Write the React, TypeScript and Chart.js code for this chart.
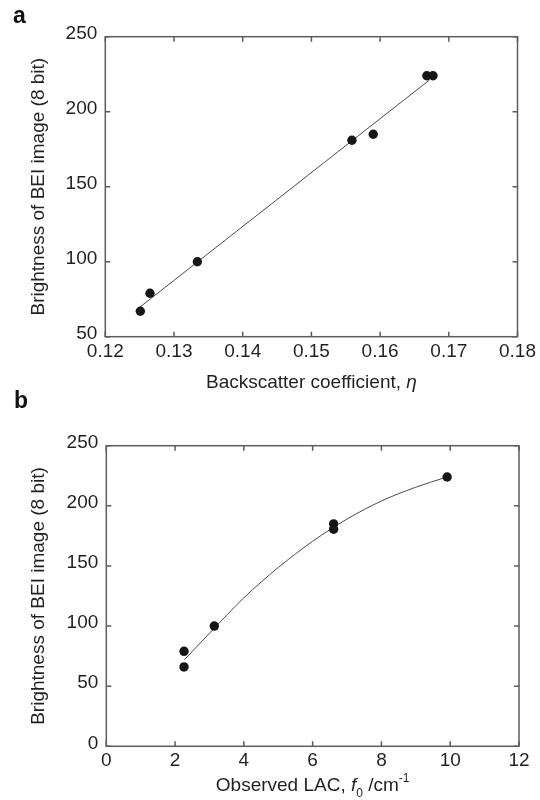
import React, { useEffect, useRef } from "react";
import { Chart, registerables } from "chart.js";

Chart.register(...registerables);

const FONT = "'Liberation Sans', Arial, Helvetica, sans-serif";
const FS = 19;
const AXIS_COLOR = "#5c5c5c";
const TEXT_COLOR = "#231f20";
const POINT_COLOR = "#161616";
const LINE_COLOR = "#4a4a4a";

// ---- Panel a ----
const etaA = [0.1251, 0.1265, 0.1334, 0.1559, 0.159, 0.1668, 0.1677];
const brightA = [67, 79, 100, 181, 185, 224, 224];
const fitEtaA = [0.125, 0.1672];
const fitBrightA = [69.6, 221.2];
const xTicksA = [0.12, 0.13, 0.14, 0.15, 0.16, 0.17, 0.18];
const yTicksA = [50, 100, 150, 200, 250];

// ---- Panel b ----
const lacB = [2.26, 2.26, 3.14, 6.61, 6.61, 9.91];
const brightB = [79, 66, 100, 185, 180.5, 224];
const curveLacB = [2.27, 3, 4, 5, 6, 7, 8, 9, 9.91];
const curveBrightB = [72, 94, 123.5, 148.7, 170.5, 189, 204, 215.5, 224];
const xTicksB = [0, 2, 4, 6, 8, 10, 12];
const yTicksB = [0, 50, 100, 150, 200, 250];

const Y_TITLE = "Brightness of BEI image (8 bit)";

type Part = { text: string; italic?: boolean; sub?: boolean; sup?: boolean };

const xTitleA: Part[] = [
  { text: "Backscatter coefficient, " },
  { text: "η", italic: true },
];
const xTitleB: Part[] = [
  { text: "Observed LAC, " },
  { text: "f", italic: true },
  { text: "0", sub: true },
  { text: " /cm" },
  { text: "-1", sup: true },
];

function makeDecor(cfg: {
  label: string;
  labelX: number;
  labelBaseline: number;
  xTitle: Part[];
  xTitleBaseline: number;
}) {
  return {
    id: "decor",
    beforeDatasetsDraw(chart: any) {
      const { ctx, chartArea } = chart;
      const { left, right, top, bottom } = chartArea;
      const xs = chart.scales.x;
      const ys = chart.scales.y;
      const T = 5;
      ctx.save();
      ctx.strokeStyle = AXIS_COLOR;
      ctx.lineWidth = 1.5;
      ctx.strokeRect(left, top, right - left, bottom - top);
      ctx.beginPath();
      xs.ticks.forEach((t: any) => {
        const p = xs.getPixelForValue(t.value);
        ctx.moveTo(p, bottom);
        ctx.lineTo(p, bottom - T);
        ctx.moveTo(p, top);
        ctx.lineTo(p, top + T);
      });
      ys.ticks.forEach((t: any) => {
        const p = ys.getPixelForValue(t.value);
        ctx.moveTo(left, p);
        ctx.lineTo(left + T, p);
        ctx.moveTo(right, p);
        ctx.lineTo(right - T, p);
      });
      ctx.stroke();
      ctx.restore();
    },
    afterDraw(chart: any) {
      const { ctx, chartArea } = chart;
      ctx.save();
      ctx.fillStyle = "#111";
      ctx.textBaseline = "alphabetic";
      ctx.textAlign = "left";
      ctx.font = `bold 23px ${FONT}`;
      ctx.fillText(cfg.label, cfg.labelX, cfg.labelBaseline);

      const small = 12;
      const fontFor = (p: Part) =>
        `${p.italic ? "italic " : ""}${p.sub || p.sup ? small : FS}px ${FONT}`;
      let total = 0;
      cfg.xTitle.forEach((p) => {
        ctx.font = fontFor(p);
        total += ctx.measureText(p.text).width;
      });
      let x = (chartArea.left + chartArea.right) / 2 - total / 2;
      ctx.fillStyle = TEXT_COLOR;
      cfg.xTitle.forEach((p) => {
        ctx.font = fontFor(p);
        let y = cfg.xTitleBaseline;
        if (p.sub) y += 6;
        if (p.sup) y -= 9;
        ctx.fillText(p.text, x, y);
        x += ctx.measureText(p.text).width;
      });
      ctx.restore();
    },
  };
}

function buildConfig(o: {
  points: { x: number; y: number }[];
  line: { x: number; y: number }[];
  smooth: boolean;
  xMin: number;
  xMax: number;
  yMin: number;
  yMax: number;
  xTicks: number[];
  yTicks: number[];
  xFmt: (v: number) => string;
  padTop: number;
  padRight: number;
  yWidth: number;
  xHeight: number;
  xTickPad: number;
  plugin: any;
}) {
  return {
    type: "scatter" as const,
    data: {
      datasets: [
        {
          type: "line" as const,
          data: o.line,
          borderColor: LINE_COLOR,
          borderWidth: 1,
          pointRadius: 0,
          fill: false,
          cubicInterpolationMode: o.smooth ? ("monotone" as const) : ("default" as const),
          tension: 0,
          order: 2,
        },
        {
          type: "scatter" as const,
          data: o.points,
          backgroundColor: POINT_COLOR,
          borderColor: POINT_COLOR,
          borderWidth: 0,
          pointRadius: 4.7,
          order: 1,
        },
      ],
    },
    options: {
      animation: false as const,
      responsive: false,
      devicePixelRatio: 1,
      layout: { padding: { left: 0, right: o.padRight, top: o.padTop, bottom: 0 } },
      plugins: { legend: { display: false }, tooltip: { enabled: false } },
      scales: {
        x: {
          type: "linear" as const,
          min: o.xMin,
          max: o.xMax,
          afterBuildTicks: (s: any) => {
            s.ticks = o.xTicks.map((v) => ({ value: v }));
          },
          afterFit: (s: any) => {
            s.height = o.xHeight;
          },
          grid: { display: false, drawTicks: false },
          border: { display: false },
          ticks: {
            font: { family: FONT, size: FS },
            color: TEXT_COLOR,
            padding: o.xTickPad,
            maxRotation: 0,
            autoSkip: false,
            callback: (v: any) => o.xFmt(Number(v)),
          },
        },
        y: {
          type: "linear" as const,
          min: o.yMin,
          max: o.yMax,
          afterBuildTicks: (s: any) => {
            s.ticks = o.yTicks.map((v) => ({ value: v }));
          },
          afterFit: (s: any) => {
            s.width = o.yWidth;
          },
          grid: { display: false, drawTicks: false },
          border: { display: false },
          ticks: {
            font: { family: FONT, size: FS },
            color: TEXT_COLOR,
            padding: 8,
            labelOffset: -3,
            autoSkip: false,
            callback: (v: any) => String(v),
          },
          title: {
            display: true,
            text: Y_TITLE,
            font: { family: FONT, size: FS },
            color: TEXT_COLOR,
            padding: { top: 27.6, bottom: 0 },
          },
        },
      },
    },
    plugins: [o.plugin],
  };
}

function ChartCanvas({ config, width, height, top }: any) {
  const ref = useRef<HTMLCanvasElement | null>(null);
  useEffect(() => {
    if (!ref.current) return;
    const chart = new Chart(ref.current, config);
    return () => chart.destroy();
  }, [config]);
  return (
    <canvas
      ref={ref}
      width={width}
      height={height}
      style={{ position: "absolute", left: 0, top, width, height }}
    />
  );
}

const configA = buildConfig({
  points: etaA.map((x, i) => ({ x, y: brightA[i] })),
  line: fitEtaA.map((x, i) => ({ x, y: fitBrightA[i] })),
  smooth: false,
  xMin: 0.12,
  xMax: 0.18,
  yMin: 50,
  yMax: 250,
  xTicks: xTicksA,
  yTicks: yTicksA,
  xFmt: (v) => v.toFixed(2),
  padTop: 36.7,
  padRight: 21.7,
  yWidth: 105.3,
  xHeight: 63.3,
  xTickPad: 4,
  plugin: makeDecor({
    label: "a",
    labelX: 13,
    labelBaseline: 23,
    xTitle: xTitleA,
    xTitleBaseline: 388,
  }),
});

const configB = buildConfig({
  points: lacB.map((x, i) => ({ x, y: brightB[i] })),
  line: curveLacB.map((x, i) => ({ x, y: curveBrightB[i] })),
  smooth: true,
  xMin: 0,
  xMax: 12,
  yMin: 0,
  yMax: 250,
  xTicks: xTicksB,
  yTicks: yTicksB,
  xFmt: (v) => String(v),
  padTop: 65.7,
  padRight: 21,
  yWidth: 106.3,
  xHeight: 53.7,
  xTickPad: 3,
  plugin: makeDecor({
    label: "b",
    labelX: 14,
    labelBaseline: 28,
    xTitle: xTitleB,
    xTitleBaseline: 411,
  }),
});

export default function App() {
  return (
    <div
      style={{
        position: "absolute",
        left: 0,
        top: 0,
        width: 540,
        height: 800,
        background: "#ffffff",
        overflow: "hidden",
      }}
    >
      <ChartCanvas config={configA} width={540} height={400} top={0} />
      <ChartCanvas config={configB} width={540} height={420} top={380} />
    </div>
  );
}
